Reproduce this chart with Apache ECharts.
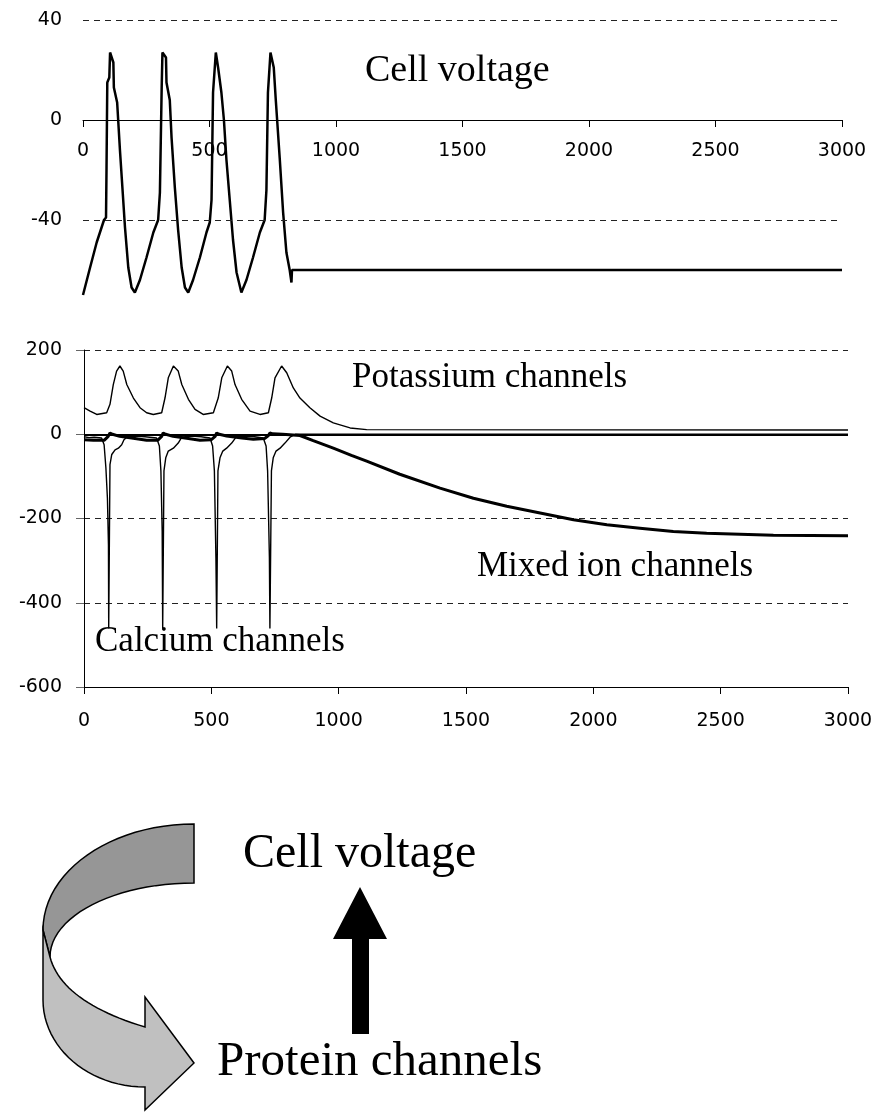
<!DOCTYPE html>
<html>
<head>
<meta charset="utf-8">
<script src="https://cdn.jsdelivr.net/npm/echarts@6.0.0/dist/echarts.min.js"></script>
<style>
  html, body { margin: 0; padding: 0; background: #fff; }
  #main { width: 878px; height: 1112px; }
</style>
</head>
<body>
<div id="main"></div>
<script>
// time (ms) / value pairs
var voltage = [
    [0, -70], [28, -59], [54, -49], [83, -40], [91, -39], [93, -19], [96, 15], [104, 17], [107, 27],
    [120, 23], [122, 13], [135, 7], [146, -12], [157, -29], [166, -43], [179, -59], [192, -67], [205, -69],
    [225, -64], [251, -55], [278, -45], [297, -40], [304, -29], [311, 13], [314, 27], [328, 25], [330, 15],
    [343, 8], [350, -7], [363, -27], [376, -44], [390, -59], [403, -67], [416, -69],
    [435, -64], [462, -55], [488, -45], [501, -41], [508, -32], [514, 11], [525, 27], [534, 21], [547, 11],
    [557, 0], [567, -16], [580, -32], [593, -48], [607, -61], [626, -69],
    [646, -64], [672, -55], [699, -45], [718, -40], [725, -28], [731, 11], [741, 27], [754, 21], [762, 8],
    [778, -16], [791, -37], [804, -53], [817, -60], [824, -65], [826, -60], [3000, -60]
];

var potassium = [
    [0, 63], [24, 55], [50, 47], [89, 51], [102, 71], [115, 118], [128, 150], [141, 162], [154, 150],
    [168, 118], [194, 86], [220, 63], [246, 51], [272, 47], [305, 51], [318, 86], [331, 134], [351, 162],
    [370, 150], [384, 118], [410, 83], [436, 59], [468, 47], [508, 51], [527, 86], [541, 134], [563, 162],
    [580, 150], [593, 118], [619, 83], [652, 55], [691, 47], [724, 51], [737, 86], [750, 134], [776, 162],
    [796, 146], [822, 110], [848, 86], [887, 63], [927, 43], [979, 27], [1045, 15], [1110, 11], [3000, 10]
];

var calcium = [
    [0, -6], [20, -8], [40, -7], [69, -9], [79, -25], [86, -80], [92, -152], [96, -263], [97, -461],
    [102, -461], [102, -72], [109, -48], [122, -37], [135, -33], [148, -25], [157, -13], [168, -7],
    [200, -4], [240, -6], [285, -9], [296, -28], [302, -87], [307, -230], [309, -461],
    [314, -461], [314, -87], [321, -56], [331, -40], [351, -33], [370, -21], [384, -7],
    [420, -4], [460, -6], [495, -9], [505, -28], [512, -87], [518, -293], [521, -461],
    [526, -461], [526, -87], [534, -56], [545, -40], [560, -33], [580, -21], [597, -7],
    [630, -4], [670, -6], [704, -9], [715, -28], [721, -87], [728, -293], [730, -461],
    [736, -461], [736, -87], [743, -56], [754, -40], [770, -33], [789, -21], [809, -7], [830, 0], [3000, 0]
];

var mixed = [
    [0, -13], [37, -14], [80, -14], [95, -5], [102, 3], [112, 0], [140, -5], [200, -10], [246, -14],
    [290, -14], [305, -5], [311, 3], [321, 0], [350, -5], [410, -10], [455, -14], [500, -13], [515, -5],
    [521, 3], [531, 0], [560, -4], [620, -9], [665, -12], [710, -10], [724, -3], [730, 3], [740, 1],
    [780, 0], [848, -3], [900, -15], [979, -33], [1050, -50], [1110, -64], [1240, -95], [1398, -128],
    [1529, -152], [1660, -171], [1791, -187], [1922, -203], [2053, -215], [2183, -223], [2314, -231],
    [2445, -235], [2707, -240], [3000, -241]
];

var voltageGrid = [40, -40];
var channelZero = [0];

var labelFont = 'DejaVu Sans';
var serif = '"Liberation Serif", "Times New Roman", serif';
var dash = { color: '#222', width: 1, type: [6, 5] };
var plain = function (v) { return String(v); };

// turn a list of line / cubic segments into polygon points (diagram only)
function outline(start, segs) {
    var pts = [start.slice()];
    var p = start;
    segs.forEach(function (s) {
        if (s.length === 1) {
            pts.push(s[0].slice());
            p = s[0];
        } else {
            for (var i = 1; i <= 24; i++) {
                var t = i / 24, u = 1 - t;
                pts.push([
                    u * u * u * p[0] + 3 * u * u * t * s[0][0] + 3 * u * t * t * s[1][0] + t * t * t * s[2][0],
                    u * u * u * p[1] + 3 * u * u * t * s[0][1] + 3 * u * t * t * s[1][1] + t * t * t * s[2][1]
                ]);
            }
            p = s[2];
        }
    });
    return pts;
}

var backBand = outline([194, 824], [
    [[110.6, 824], [43, 871.5], [43, 930]],
    [[50, 957]],
    [[50, 916], [115, 883], [194, 883]]
]);
var frontBand = outline([43, 930], [
    [[43, 1000]],
    [[43, 1048], [89, 1087], [145, 1087]],
    [[145, 1110]], [[194, 1063]], [[145, 997]], [[145, 1027]],
    [[89.7, 1010.3], [58, 987], [50, 957]]
]);

var myChart = echarts.init(document.getElementById('main'));

var option = {
    animation: false,
    backgroundColor: '#fff',
    grid: [
        { left: 83, right: 36, top: 20, height: 300 },
        { left: 84, right: 30, top: 350, height: 337 }
    ],
    xAxis: [
        {
            // axis drawn across the 0 mV level, labels right below it
            gridIndex: 0, type: 'value', min: 0, max: 3000, interval: 500,
            position: 'bottom', offset: -200,
            axisLine: { onZero: false, lineStyle: { color: '#000', width: 1 } },
            axisTick: { show: true, length: 7, lineStyle: { color: '#000' } },
            axisLabel: { color: '#000', fontFamily: labelFont, fontSize: 19, margin: 22, formatter: plain },
            splitLine: { show: false }
        },
        {
            gridIndex: 1, type: 'value', min: 0, max: 3000, interval: 500,
            axisLine: { onZero: false, lineStyle: { color: '#000', width: 1 } },
            axisTick: { show: true, length: 7, lineStyle: { color: '#000' } },
            axisLabel: { color: '#000', fontFamily: labelFont, fontSize: 19, margin: 25, formatter: plain },
            splitLine: { show: false }
        }
    ],
    yAxis: [
        {
            gridIndex: 0, type: 'value', min: -80, max: 40, interval: 40,
            axisLine: { show: false },
            axisTick: { show: false },
            axisLabel: {
                color: '#000', fontFamily: labelFont, fontSize: 19, margin: 21,
                formatter: function (v) { return v === -80 ? '' : String(v); }
            },
            splitLine: { show: false }
        },
        {
            gridIndex: 1, type: 'value', min: -600, max: 200, interval: 200,
            axisLine: { show: true, lineStyle: { color: '#000', width: 1 } },
            axisTick: { show: true, length: 8, lineStyle: { color: '#666' } },
            axisLabel: { color: '#000', fontFamily: labelFont, fontSize: 19, margin: 22, formatter: plain },
            splitLine: { show: true, lineStyle: dash }
        }
    ],
    series: [
        {
            name: 'Cell voltage', type: 'line', xAxisIndex: 0, yAxisIndex: 0,
            data: voltage, showSymbol: false, symbol: 'none',
            lineStyle: { color: '#000', width: 2.5 },
            markLine: {
                silent: true, symbol: 'none', label: { show: false },
                lineStyle: dash,
                data: voltageGrid.map(function (v) { return { yAxis: v }; })
            }
        },
        {
            name: 'Potassium channels', type: 'line', xAxisIndex: 1, yAxisIndex: 1,
            data: potassium, showSymbol: false, symbol: 'none',
            lineStyle: { color: '#000', width: 1.4 },
            markLine: {
                silent: true, symbol: 'none', label: { show: false },
                lineStyle: { color: '#000', width: 2, type: 'solid' },
                data: channelZero.map(function (v) { return { yAxis: v }; })
            }
        },
        {
            name: 'Calcium channels', type: 'line', xAxisIndex: 1, yAxisIndex: 1,
            data: calcium, showSymbol: false, symbol: 'none',
            lineStyle: { color: '#000', width: 1.4 }
        },
        {
            name: 'Mixed ion channels', type: 'line', xAxisIndex: 1, yAxisIndex: 1,
            data: mixed, showSymbol: false, symbol: 'none',
            lineStyle: { color: '#000', width: 3 }
        }
    ],
    graphic: [
        // series labels
        { type: 'text', style: { text: 'Cell voltage', x: 365, y: 71, font: '38px ' + serif, fill: '#000', textVerticalAlign: 'middle' } },
        { type: 'text', style: { text: 'Potassium channels', x: 352, y: 378, font: '35px ' + serif, fill: '#000', textVerticalAlign: 'middle' } },
        { type: 'text', style: { text: 'Calcium channels', x: 95, y: 642, font: '35px ' + serif, fill: '#000', textVerticalAlign: 'middle' } },
        { type: 'text', style: { text: 'Mixed ion channels', x: 477, y: 567, font: '35px ' + serif, fill: '#000', textVerticalAlign: 'middle' } },

        // feedback diagram
        {
            type: 'polygon',
            shape: { points: backBand },
            style: { fill: '#969696', stroke: '#000', lineWidth: 1.5 }
        },
        {
            type: 'polygon',
            shape: { points: frontBand },
            style: { fill: '#c0c0c0', stroke: '#000', lineWidth: 1.5 }
        },
        {
            type: 'polygon',
            shape: { points: [[360, 887], [387, 939], [369, 939], [369, 1034], [352, 1034], [352, 939], [333, 939]] },
            style: { fill: '#000' }
        },
        { type: 'text', style: { text: 'Cell voltage', x: 243, y: 854, font: '48px ' + serif, fill: '#000', textVerticalAlign: 'middle' } },
        { type: 'text', style: { text: 'Protein channels', x: 217, y: 1062, font: '49px ' + serif, fill: '#000', textVerticalAlign: 'middle' } }
    ]
};

myChart.setOption(option);
</script>
</body>
</html>
